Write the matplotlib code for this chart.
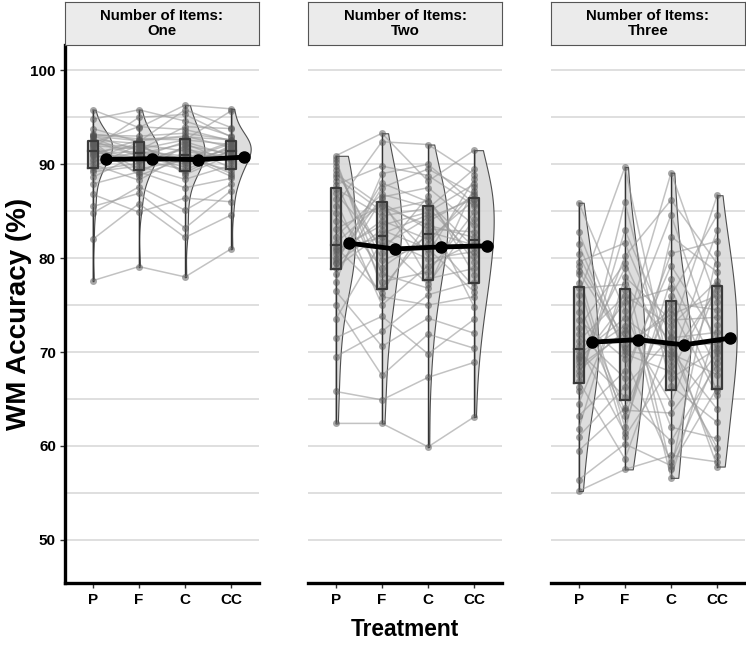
"""Raincloud-style WM accuracy plot by number of items and treatment"""
import numpy as np
import matplotlib
matplotlib.use('Agg')
import matplotlib.pyplot as plt

plt.rcParams['font.family'] = ['Liberation Sans', 'DejaVu Sans']

treatments = ["P", "F", "C", "CC"]
panel_titles = ["Number of Items:\nOne", "Number of Items:\nTwo", "Number of Items:\nThree"]

# participant-wise accuracy (%), same participant order in every list of a panel
one_P = [91.3, 93.0, 88.6, 95.8, 92.4, 77.6, 90.6, 93.1, 89.4, 92.0, 85.5, 94.8,
         91.1, 90.0, 92.0, 82.0, 92.8, 89.7, 93.8, 91.8, 86.8, 92.3, 90.3, 92.6,
         84.8, 91.5, 93.2, 89.2, 92.2, 87.9, 91.7, 90.9, 91.0, 91.3, 93.0, 92.5]
one_F = [90.5, 91.5, 91.1, 93.9, 88.8, 79.1, 92.3, 93.0, 90.1, 89.5, 86.9, 95.8,
         91.4, 88.3, 91.6, 85.8, 90.9, 92.1, 92.4, 89.0, 84.9, 94.0, 91.3, 92.2,
         87.6, 90.7, 92.7, 89.8, 91.8, 89.2, 95.0, 90.3, 92.6, 91.9, 92.5, 90.8]
one_C = [89.4, 94.0, 92.2, 96.3, 90.6, 78.0, 88.9, 93.3, 91.8, 90.4, 83.2, 94.6,
         90.0, 91.1, 92.6, 82.2, 89.7, 91.4, 95.8, 92.0, 86.4, 93.7, 90.9, 89.1,
         85.1, 92.4, 92.6, 88.4, 90.5, 87.5, 95.3, 91.6, 93.0, 90.2, 92.9, 90.7]
one_CC = [91.5, 93.8, 90.2, 95.9, 92.4, 81.0, 91.0, 92.6, 89.6, 91.6, 87.2, 93.0,
          91.8, 89.0, 92.1, 84.6, 92.0, 90.5, 93.9, 91.1, 86.0, 92.5, 88.7, 91.5,
          87.9, 90.9, 95.7, 89.9, 92.2, 88.5, 92.9, 90.7, 91.8, 91.3, 92.6, 89.3]

two_P = [81.2, 88.6, 73.5, 84.8, 79.5, 90.9, 62.4, 86.3, 79.0, 83.1, 89.4, 76.5,
         80.4, 87.8, 65.8, 82.3, 90.2, 79.5, 85.6, 75.0, 81.6, 88.2, 71.5, 80.0,
         86.9, 78.3, 89.8, 84.0, 79.8, 69.5, 87.4, 81.0, 77.5, 90.6, 80.8, 89.0]
two_F = [76.3, 85.0, 81.8, 79.0, 87.5, 93.3, 62.4, 75.0, 82.6, 85.6, 80.6, 70.6,
         84.0, 89.8, 64.9, 86.8, 78.3, 83.0, 92.4, 67.5, 85.9, 77.5, 73.8, 88.0,
         81.3, 86.3, 79.8, 75.9, 86.5, 72.2, 84.5, 82.2, 89.0, 76.8, 83.5, 85.5]
two_C = [83.9, 86.1, 77.2, 82.4, 89.5, 88.2, 59.9, 79.2, 84.6, 80.5, 86.6, 73.6,
         82.0, 88.8, 67.3, 85.4, 76.8, 81.0, 92.1, 71.9, 83.1, 78.5, 69.8, 86.0,
         84.3, 77.8, 81.5, 75.0, 87.5, 76.1, 85.3, 79.9, 90.0, 82.8, 84.9, 83.5]
two_CC = [86.6, 79.6, 84.2, 76.9, 86.8, 91.5, 63.1, 81.7, 74.8, 88.4, 78.2, 72.0,
          86.2, 85.6, 68.9, 80.2, 87.6, 76.4, 88.9, 70.4, 82.8, 84.9, 73.5, 81.1,
          86.3, 78.9, 87.1, 75.9, 83.5, 77.5, 89.5, 80.7, 85.8, 81.4, 87.9, 82.2]

three_P = [69.5, 78.3, 55.2, 72.6, 82.8, 64.5, 70.6, 61.0, 76.1, 68.0, 85.9, 66.9,
           73.4, 59.5, 79.6, 69.3, 63.2, 77.4, 71.2, 56.4, 68.5, 80.4, 65.8, 74.3,
           70.1, 61.8, 79.2, 67.5, 75.2, 68.9, 81.5, 66.3, 71.9, 69.7, 78.6, 76.8]
three_F = [72.8, 62.0, 57.5, 79.5, 70.4, 76.6, 61.4, 66.3, 89.7, 72.3, 74.4, 58.6,
           69.3, 64.0, 81.6, 78.9, 68.0, 61.0, 76.0, 60.2, 72.0, 70.1, 86.0, 63.2,
           65.2, 78.0, 71.5, 80.2, 63.8, 75.3, 69.8, 83.0, 67.2, 73.6, 70.8, 77.2]
three_C = [64.6, 77.8, 59.0, 69.0, 74.6, 56.6, 82.3, 71.6, 67.2, 89.1, 62.0, 72.1,
           58.3, 75.2, 70.1, 57.5, 79.2, 68.5, 72.8, 57.9, 84.6, 69.5, 66.4, 76.0,
           60.5, 73.4, 70.5, 86.2, 63.5, 76.8, 67.9, 71.5, 80.5, 69.8, 74.0, 71.0]
three_CC = [77.0, 68.2, 58.3, 83.0, 65.4, 72.9, 78.5, 57.8, 70.4, 75.3, 60.8, 86.7,
            69.4, 74.5, 63.9, 80.6, 71.4, 59.8, 77.6, 66.2, 70.1, 76.6, 62.5, 84.6,
            68.8, 73.7, 58.9, 79.4, 69.9, 65.8, 77.1, 72.1, 81.8, 67.6, 76.0, 70.8]

panels = [[one_P, one_F, one_C, one_CC],
          [two_P, two_F, two_C, two_CC],
          [three_P, three_F, three_C, three_CC]]


def kde(vals, grid, adjust=1.4):
    """Gaussian KDE with R's nrd0 bandwidth"""
    vals = np.asarray(vals)
    n = len(vals)
    iqr = np.subtract(*np.percentile(vals, [75, 25]))
    bw = adjust * 0.9 * min(vals.std(ddof=1), iqr / 1.34) * n ** -0.2
    z = (grid[:, None] - vals[None, :]) / bw
    return np.exp(-0.5 * z ** 2).sum(axis=1) / (n * bw * np.sqrt(2 * np.pi))


W, H = 746., 645.
fig = plt.figure(figsize=(W / 100, H / 100), dpi=100)
lefts = [65, 308, 551]
xpos = np.arange(1, 5)
vwidth = 0.42   # max half-violin width (scale = "width")

for k, panel in enumerate(panels):
    ax = fig.add_axes([lefts[k] / W, (H - 583) / H, 194 / W, (583 - 45) / H])
    ax.set_xlim(0.4, 4.6)
    ax.set_ylim(45.4, 102.7)
    for g in np.arange(50, 101, 5):
        ax.axhline(g, color='#dcdcdc', lw=1.3, zorder=0)

    # half violins
    for i, vals in enumerate(panel):
        grid = np.linspace(min(vals), max(vals), 200)
        d = kde(vals, grid)
        x0 = xpos[i]
        ax.fill_betweenx(grid, x0, x0 + d / d.max() * vwidth, facecolor='#d8d8d8',
                         edgecolor='#333333', lw=0.8, alpha=0.85, zorder=1)
        ax.plot([x0, x0], [grid[0], grid[-1]], color='#333333', lw=1.0, zorder=1)

    # participant lines and points
    data = np.array(panel)
    for j in range(data.shape[1]):
        ax.plot(xpos, data[:, j], color='#9a9a9a', lw=1.1, alpha=0.6, zorder=2)
    for i in range(4):
        ax.plot(np.full(data.shape[1], xpos[i]), data[i], 'o', color='#505050',
                ms=5, alpha=0.5, mec='none', zorder=3)

    # boxes
    for i in range(4):
        q1, med, q3 = np.percentile(data[i], [25, 50, 75])
        bw = 0.11
        ax.fill_between([xpos[i] - bw, xpos[i] + bw], q1, q3, facecolor='#777777',
                        alpha=0.35, zorder=4)
        ax.plot([xpos[i] - bw, xpos[i] + bw, xpos[i] + bw, xpos[i] - bw, xpos[i] - bw],
                [q1, q1, q3, q3, q1], color='#3a3a3a', lw=1.6, zorder=4)
        ax.plot([xpos[i] - bw, xpos[i] + bw], [med, med], color='#3a3a3a', lw=1.6, zorder=4)

    # mean line
    means = data.mean(axis=1)
    ax.plot(xpos + 0.28, means, '-o', color='black', lw=3.5, ms=8, zorder=5)

    ax.set_xticks(xpos)
    ax.set_xticklabels(treatments, fontsize=11, fontweight='bold')
    ax.tick_params(axis='x', length=3.5, width=1, color='#333333', pad=4)
    for s in ['top', 'right']:
        ax.spines[s].set_visible(False)
    ax.spines['bottom'].set_linewidth(2.4)
    if k == 0:
        ax.spines['left'].set_linewidth(2.4)
        ax.set_yticks(np.arange(50, 101, 10))
        ax.set_yticklabels([str(v) for v in range(50, 101, 10)], fontsize=11,
                           fontweight='bold')
        ax.tick_params(axis='y', length=3.5, width=1, color='#333333', pad=3)
    else:
        ax.spines['left'].set_visible(False)
        ax.set_yticks([])

    # facet strip
    sax = fig.add_axes([lefts[k] / W, (H - 45) / H, 194 / W, 43 / H])
    sax.set_facecolor('#ebebeb')
    sax.set_xticks([])
    sax.set_yticks([])
    for s in sax.spines.values():
        s.set_color('#555555')
        s.set_linewidth(0.8)
    sax.text(0.5, 0.5, panel_titles[k], ha='center', va='center', fontsize=10.8,
             fontweight='bold', linespacing=1.1, transform=sax.transAxes)

fig.text(405 / W, 1 - 629 / H, "Treatment", ha='center', va='center', fontsize=16.4,
         fontweight='bold')
fig.text(19 / W, 1 - 314 / H, "WM Accuracy (%)", ha='center', va='center', fontsize=20,
         fontweight='bold', rotation=90)

plt.savefig("out.png", dpi=100)
